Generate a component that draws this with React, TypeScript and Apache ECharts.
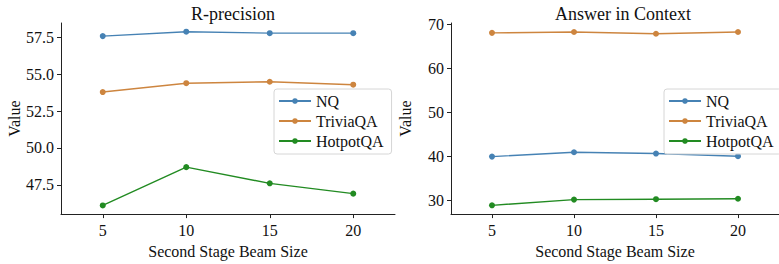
import React, { useEffect, useRef } from "react";
import * as echarts from "echarts";

const beamSizes = [5, 10, 15, 20];
const seriesNames = ["NQ", "TriviaQA", "HotpotQA"];
const colors = ["#4682B4", "#CD853F", "#228B22"];

const rPrecisionNQ = [57.6, 57.9, 57.8, 57.8];
const rPrecisionTrivia = [53.8, 54.4, 54.5, 54.3];
const rPrecisionHotpot = [46.1, 48.7, 47.6, 46.9];

const aicNQ = [39.9, 40.9, 40.6, 40.0];
const aicTrivia = [68.1, 68.3, 67.9, 68.3];
const aicHotpot = [28.8, 30.1, 30.2, 30.3];

const leftYTicks = [47.5, 50.0, 52.5, 55.0, 57.5];
const rightYTicks = [30, 40, 50, 60, 70];
const titles = ["R-precision", "Answer in Context"];

const FONT = "Liberation Serif";

function makeXAxis(i: number) {
  return {
    type: "value",
    gridIndex: i,
    min: 2.5,
    max: 22.5,
    name: "Second Stage Beam Size",
    nameLocation: "middle",
    nameGap: 22,
    nameTextStyle: { fontFamily: FONT, fontSize: 16, color: "#111" },
    axisLine: { show: true, lineStyle: { color: "#222", width: 1 } },
    axisTick: { show: true, length: 4, customValues: beamSizes, lineStyle: { color: "#222", width: 1 } },
    axisLabel: { customValues: beamSizes, fontFamily: FONT, fontSize: 16, color: "#111", margin: 8 },
    splitLine: { show: false },
  };
}

function makeYAxis(i: number, ticks: number[], min: number, max: number, digits: number) {
  return {
    type: "value",
    gridIndex: i,
    min,
    max,
    name: "Value",
    nameLocation: "middle",
    nameGap: 38,
    nameTextStyle: { fontFamily: FONT, fontSize: 16, color: "#111" },
    axisLine: { show: true, lineStyle: { color: "#222", width: 1 } },
    axisTick: { show: true, length: 4, customValues: ticks, lineStyle: { color: "#222", width: 1 } },
    axisLabel: {
      customValues: ticks,
      formatter: (v: number) => v.toFixed(digits),
      fontFamily: FONT,
      fontSize: 16,
      color: "#111",
      margin: 7,
    },
    splitLine: { show: false },
  };
}

export default function App() {
  const ref = useRef<HTMLDivElement>(null);

  useEffect(() => {
    if (!ref.current) return;
    const chart = echarts.init(ref.current, undefined, { renderer: "svg" });

    const dataSets = [
      [rPrecisionNQ, rPrecisionTrivia, rPrecisionHotpot],
      [aicNQ, aicTrivia, aicHotpot],
    ];

    const series: any[] = [];
    [0, 1].forEach((g) => {
      seriesNames.forEach((name, s) => {
        series.push({
          type: "line",
          name,
          xAxisIndex: g,
          yAxisIndex: g,
          data: beamSizes.map((x, k) => [x, dataSets[g][s][k]]),
          symbol: "circle",
          symbolSize: 6,
          lineStyle: { color: colors[s], width: 1.4 },
          itemStyle: { color: colors[s] },
        });
      });
    });

    const legends = [274, 664].map((left) => ({
      data: seriesNames,
      orient: "vertical",
      left,
      top: 89,
      itemWidth: 32,
      itemHeight: 7,
      itemGap: 4,
      padding: [4, 8, 5, 4],
      backgroundColor: "rgba(255,255,255,0.8)",
      borderColor: "#d6d6d6",
      borderWidth: 1,
      borderRadius: 3,
      textStyle: { fontFamily: FONT, fontSize: 16, color: "#111" },
      selectedMode: false,
    }));

    chart.setOption({
      animation: false,
      backgroundColor: "#fff",
      title: titles.map((t, i) => ({
        text: t,
        left: i === 0 ? 228 : 618,
        textAlign: "center",
        top: 0,
        textStyle: { fontFamily: FONT, fontSize: 18, fontWeight: "normal", color: "#111" },
      })),
      grid: [
        { left: 61, top: 23, width: 334, height: 199 },
        { left: 451, top: 23, width: 334, height: 199 },
      ],
      xAxis: [makeXAxis(0), makeXAxis(1)],
      yAxis: [
        makeYAxis(0, leftYTicks, 45.51, 58.49, 1),
        makeYAxis(1, rightYTicks, 26.8, 70.35, 0),
      ],
      legend: legends,
      series,
    });

    return () => chart.dispose();
  }, []);

  return (
    <div
      ref={ref}
      style={{ position: "fixed", left: 0, top: 0, width: 779, height: 264 }}
    />
  );
}
